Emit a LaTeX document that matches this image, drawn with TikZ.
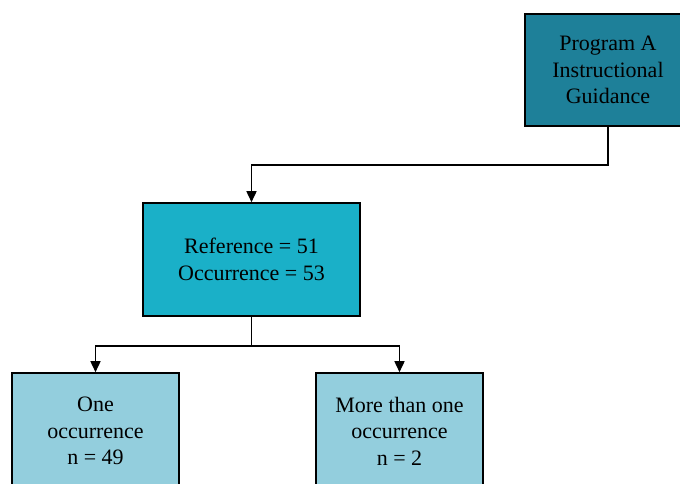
\documentclass[tikz,border=0pt]{standalone}
\usepackage{fontspec}
\setmainfont{Liberation Serif}
\usetikzlibrary{arrows.meta}
\definecolor{boxdark}{RGB}{30,128,153}
\definecolor{boxmid}{RGB}{26,176,200}
\definecolor{boxlight}{RGB}{147,206,221}
\tikzset{
  box/.style={draw=black, line width=1.6pt, rectangle, align=center,
    inner sep=0pt, font=\fontsize{22}{26.5}\selectfont},
  arr/.style={draw=black, line width=1.6pt,
    -{Triangle[length=11pt,width=10pt]}},
  link/.style={draw=black, line width=1.6pt}
}
\begin{document}
\begin{tikzpicture}[x=1pt,y=-1pt]
  \useasboundingbox (0,0) rectangle (680,483);
  \clip (0,0) rectangle (680,483);
  \fill[white] (0,0) rectangle (680,483);

  % boxes
  \node[box, fill=boxdark, minimum width=166pt, minimum height=112pt]
    (prog) at (608,70) {Program A\\Instructional\\Guidance};
  \node[box, fill=boxmid, minimum width=217pt, minimum height=113pt]
    (refs) at (251.5,259.5) {Reference = 51\\Occurrence = 53};
  \node[box, fill=boxlight, minimum width=167pt, minimum height=116pt]
    (one) at (95.5,431) {One\\occurrence\\n = 49};
  \node[box, fill=boxlight, minimum width=167pt, minimum height=116pt]
    (more) at (399.5,431) {More than one\\occurrence\\n = 2};

  % connectors
  \draw[arr] (prog.south) -- ++(0,38) -| (refs.north);
  \draw[link] (refs.south) -- ++(0,29) coordinate (split);
  \draw[arr] (split) -| (one.north);
  \draw[arr] (split) -| (more.north);
\end{tikzpicture}
\end{document}
